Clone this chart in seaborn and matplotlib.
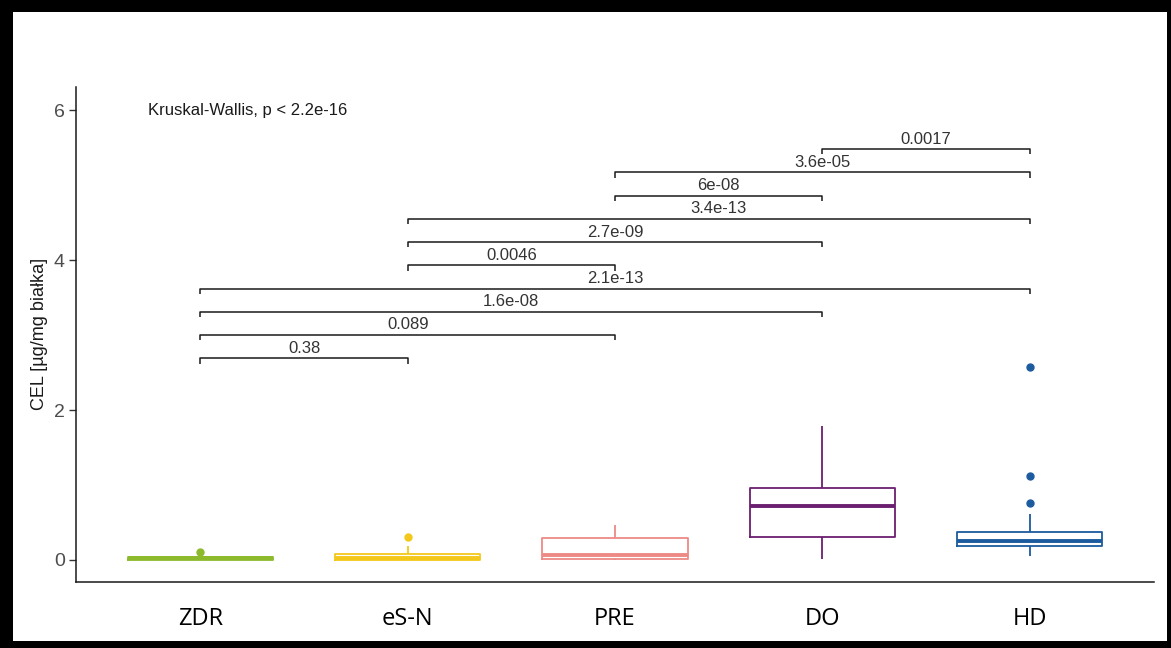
import numpy as np
import pandas as pd

import matplotlib
matplotlib.use("Agg")
import matplotlib.pyplot as plt
from matplotlib.patches import Rectangle
import seaborn as sns


groups = ["ZDR", "eS-N", "PRE", "DO", "HD"]

# sample values chosen so the boxes match the quartiles / whiskers / outliers in the picture
zdr = [0.0, 0.002, 0.005, 0.02, 0.03, 0.04, 0.045, 0.06, 0.11]
esn = [0.0, 0.0, 0.005, 0.02, 0.03, 0.05, 0.08, 0.18, 0.31]
pre = [0.0, 0.005, 0.01, 0.04, 0.07, 0.15, 0.29, 0.4, 0.47]
do = [0.01, 0.2, 0.31, 0.5, 0.72, 0.85, 0.96, 1.3, 1.79]
hd = [0.05, 0.1, 0.15, 0.17, 0.19, 0.2, 0.21, 0.22, 0.25,
      0.27, 0.29, 0.33, 0.37, 0.61, 0.76, 1.12, 2.58]

colors = ["#8DBA2C", "#F3C81A", "#EE8A86", "#6C1F70", "#1D5B9F"]

# pairwise comparisons (group a, group b, p label, bracket height)
pair_a = ["ZDR", "ZDR", "ZDR", "ZDR", "eS-N", "eS-N", "eS-N", "PRE", "PRE", "DO"]
pair_b = ["eS-N", "PRE", "DO", "HD", "PRE", "DO", "HD", "DO", "HD", "HD"]
p_labels = ["0.38", "0.089", "1.6e-08", "2.1e-13", "0.0046",
            "2.7e-09", "3.4e-13", "6e-08", "3.6e-05", "0.0017"]
p_heights = [2.69, 3.0, 3.31, 3.62, 3.93, 4.24, 4.55, 4.86, 5.17, 5.48]

kw_text = "Kruskal-Wallis, p < 2.2e-16"


df = pd.concat([
    pd.DataFrame({"Grupa": g, "CEL": v})
    for g, v in zip(groups, [zdr, esn, pre, do, hd])
], ignore_index=True)


sns.set_style("white")
plt.rcParams["font.family"] = ["Liberation Sans", "DejaVu Sans"]

fig = plt.figure(figsize=(11.71, 6.48), dpi=100)
ax = fig.add_axes([0.0649, 0.1023, 0.9206, 0.7634])

sns.boxplot(
    data=df,
    x="Grupa",
    y="CEL",
    hue="Grupa",
    order=groups,
    hue_order=groups,
    palette=colors,
    fill=False,
    width=0.7,
    linewidth=1.3,
    medianprops={"linewidth": 2.8},
    capprops={"visible": False},
    flierprops={"marker": "o", "markersize": 5},
    legend=False,
    ax=ax
)

# outlier dots filled in group colour
for line in ax.lines:
    if line.get_marker() == "o":
        line.set_markerfacecolor(line.get_markeredgecolor())

# comparison brackets
pos = {g: i for i, g in enumerate(groups)}
tick = 0.07
for a, b, lab, h in zip(pair_a, pair_b, p_labels, p_heights):
    x1, x2 = pos[a], pos[b]
    ax.plot([x1, x1, x2, x2], [h - tick, h, h, h - tick],
            color="#1a1a1a", lw=1.1, solid_capstyle="butt")
    ax.text((x1 + x2) / 2, h + 0.075, lab, ha="center", va="baseline",
            fontsize=12, color="#333333")

ax.text(-0.255, 6.0, kw_text, ha="left", va="center",
        fontsize=12, color="#1a1a1a")

ax.set_xlim(-0.6, 4.6)
ax.set_ylim(-0.29, 6.31)
ax.set_yticks([0, 2, 4, 6])

ax.set_xlabel("")
ax.set_ylabel("CEL [µg/mg białka]", fontsize=13, color="#1a1a1a", labelpad=4)

ax.tick_params(axis="y", length=5, width=1, color="#333333",
               labelsize=14, labelcolor="#4d4d4d", left=True, pad=3)
ax.tick_params(axis="x", length=0, pad=18)
for lab in ax.get_xticklabels():
    lab.set_fontfamily(["Open Sans", "DejaVu Sans"])
    lab.set_fontsize(17)
    lab.set_color("black")

sns.despine(ax=ax)
for s in ["left", "bottom"]:
    ax.spines[s].set_color("#1a1a1a")
    ax.spines[s].set_linewidth(1.1)

# black frame around the whole picture
W, H = 1171, 648
frame = [(0, 0, 13, H), (0, H - 12, W, 12), (W - 4, 0, 4, H), (0, 0, W, 7)]
for x0, y0, w, h in frame:
    fig.add_artist(Rectangle((x0 / W, y0 / H), w / W, h / H,
                             transform=fig.transFigure,
                             color="black", lw=0))

fig.savefig("out.png", dpi=100)
